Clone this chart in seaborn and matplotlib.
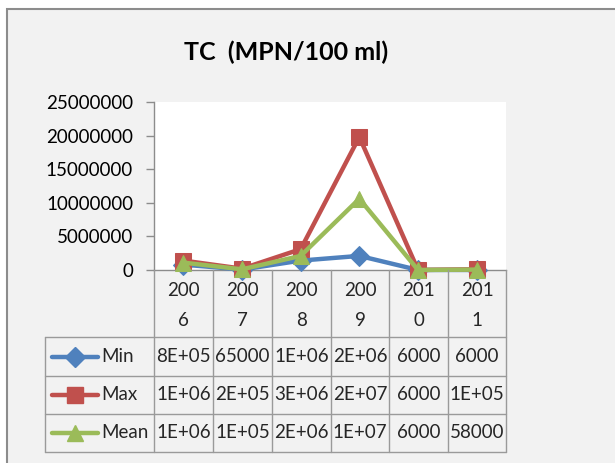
import matplotlib
matplotlib.use("Agg")
import matplotlib.pyplot as plt
from matplotlib.lines import Line2D
from matplotlib.patches import Rectangle
import seaborn as sns
import pandas as pd

# ---- data ----
years = ["2006", "2007", "2008", "2009", "2010", "2011"]
year_labels = ["200\n6", "200\n7", "200\n8", "200\n9", "201\n0", "201\n1"]
min_vals = [800000, 65000, 1400000, 2100000, 6000, 6000]
max_vals = [1400000, 200000, 3100000, 19800000, 6000, 100000]
mean_vals = [1100000, 100000, 2100000, 10600000, 6000, 58000]
min_text = ["8E+05", "65000", "1E+06", "2E+06", "6000", "6000"]
max_text = ["1E+06", "2E+05", "3E+06", "2E+07", "6000", "1E+05"]
mean_text = ["1E+06", "1E+05", "2E+06", "1E+07", "6000", "58000"]
series_names = ["Min", "Max", "Mean"]
y_ticks = [0, 5000000, 10000000, 15000000, 20000000, 25000000]
title = "TC  (MPN/100 ml)"

colors = {"Min": "#4f81bd", "Max": "#c0504d", "Mean": "#9bbb59"}
markers = {"Min": "D", "Max": "s", "Mean": "^"}
msizes = {"Min": 10, "Max": 11.5, "Mean": 12}

series_vals = {"Min": min_vals, "Max": max_vals, "Mean": mean_vals}
series_text = {"Min": min_text, "Max": max_text, "Mean": mean_text}

sns.set_theme(style="white")
plt.rcParams["font.family"] = ["Lato", "DejaVu Sans"]

W, H = 615, 463
fig = plt.figure(figsize=(W / 100, H / 100), dpi=100)
fig.patch.set_facecolor("white")

def fx(px):
    return px / W

def fy(py):
    return 1 - py / H

# chart area background
fig.patches.append(Rectangle((fx(7), fy(475)), fx(630) - fx(7), fy(9) - fy(475),
                             transform=fig.transFigure, facecolor="#f2f2f2",
                             edgecolor="#8c8c8c", linewidth=1.5, zorder=-5))

# plot area
L, T, R, B = 154, 102, 506, 270
ax = fig.add_axes([fx(L), fy(B), fx(R) - fx(L), fy(T) - fy(B)])
ax.set_facecolor("white")
ax.set_zorder(1)

for name in series_names:
    df = pd.DataFrame({"Year": years, "Value": series_vals[name]})
    sns.lineplot(data=df, x="Year", y="Value", ax=ax, color=colors[name],
                 marker=markers[name], markersize=msizes[name],
                 markeredgecolor=colors[name], markerfacecolor=colors[name],
                 linewidth=3.2, sort=False, clip_on=False, zorder=3)

ax.set_xlim(-0.5, 5.5)
ax.set_ylim(0, 25000000)
ax.set_yticks(y_ticks)
ax.set_yticklabels([str(t) for t in y_ticks], fontsize=13.5, color="black")
ax.set_xticks([])
ax.set_xlabel("")
ax.set_ylabel("")
for s in ["top", "right"]:
    ax.spines[s].set_visible(False)
for s in ["left", "bottom"]:
    ax.spines[s].set_color("#8c8c8c")
    ax.spines[s].set_linewidth(1)
    ax.spines[s].set_zorder(2)
ax.tick_params(axis="y", left=True, length=6, width=1, color="#8c8c8c", pad=9)

fig.text(fx(286), fy(52), title, ha="center", va="center", fontsize=18,
         fontweight="bold", color="black")

# ---- data table ----
grid_c = "#9a9a9a"
col_edges = [154, 213, 272, 331, 389, 448, 506]
row_edges = [337, 376, 414, 452]
legend_left = 45

def hline(y, x0, x1):
    fig.add_artist(Line2D([fx(x0), fx(x1)], [fy(y), fy(y)], color=grid_c,
                          linewidth=1, transform=fig.transFigure, zorder=2))

def vline(x, y0, y1):
    fig.add_artist(Line2D([fx(x), fx(x)], [fy(y0), fy(y1)], color=grid_c,
                          linewidth=1, transform=fig.transFigure, zorder=2))

for y in row_edges:
    hline(y, legend_left, 506)
for x in col_edges:
    vline(x, 270, 452)
vline(legend_left, 337, 452)

centers = [(col_edges[i] + col_edges[i + 1]) / 2 for i in range(6)]
for i, lab in enumerate(year_labels):
    top, bot = lab.split("\n")
    fig.text(fx(centers[i]), fy(290), top, ha="center", va="center", fontsize=13.5)
    fig.text(fx(centers[i]), fy(320), bot, ha="center", va="center", fontsize=13.5)

for r, name in enumerate(series_names):
    yc = (row_edges[r] + row_edges[r + 1]) / 2
    fig.add_artist(Line2D([fx(52), fx(98)], [fy(yc), fy(yc)], color=colors[name],
                          linewidth=3.2, transform=fig.transFigure, zorder=2))
    fig.add_artist(Line2D([fx(75)], [fy(yc)], color=colors[name], marker=markers[name],
                          markersize=msizes[name], markeredgecolor=colors[name],
                          linestyle="none", transform=fig.transFigure, zorder=2))
    fig.text(fx(101), fy(yc), name, ha="left", va="center", fontsize=13.5)
    for i, t in enumerate(series_text[name]):
        fig.text(fx(centers[i]), fy(yc), t, ha="center", va="center", fontsize=13.5)

fig.savefig("out.png", dpi=100)
